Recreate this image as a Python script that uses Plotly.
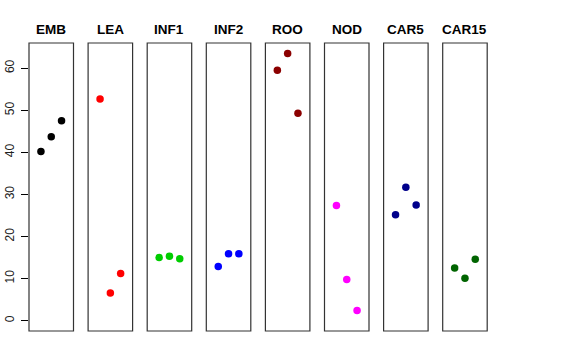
import plotly.graph_objects as go

groups = ["EMB", "LEA", "INF1", "INF2", "ROO", "NOD", "CAR5", "CAR15"]
colors = ["#000000", "#FF0000", "#00CD00", "#0000FF", "#8B0000", "#FF00FF", "#00008B", "#006400"]
x_pos = [1, 2, 3]
values = {
    "EMB": [40.2, 43.7, 47.5],
    "LEA": [52.7, 6.6, 11.2],
    "INF1": [15.0, 15.3, 14.7],
    "INF2": [12.9, 15.9, 15.9],
    "ROO": [59.5, 63.5, 49.3],
    "NOD": [27.4, 9.8, 2.4],
    "CAR5": [25.2, 31.7, 27.5],
    "CAR15": [12.5, 10.1, 14.6],
}
y_ticks = [0, 10, 20, 30, 40, 50, 60]

W, H = 576, 360
left0, pw, step = 29, 44.5, 59.1
top, bottom = 43, 331

fig = go.Figure()
layout = dict(
    width=W, height=H, margin=dict(l=0, r=0, t=0, b=0, autoexpand=False),
    paper_bgcolor="white", plot_bgcolor="white", showlegend=False,
    font=dict(family="Liberation Sans, Arial, sans-serif", color="black"),
)
shapes, annotations = [], []
for i, g in enumerate(groups):
    xn = "x" if i == 0 else f"x{i+1}"
    xa = "xaxis" if i == 0 else f"xaxis{i+1}"
    x0 = (left0 + i * step) / W
    x1 = (left0 + i * step + pw) / W
    layout[xa] = dict(domain=[x0, x1], range=[-0.16, 4.16], visible=False,
                      anchor="y", fixedrange=True, automargin=False)
    fig.add_trace(go.Scatter(x=x_pos, y=values[g], mode="markers", xaxis=xn, yaxis="y",
                             marker=dict(color=colors[i], size=7.5, line=dict(width=0)),
                             hoverinfo="skip"))
    shapes.append(dict(type="rect", xref="paper", yref="paper", x0=x0, x1=x1,
                       y0=1 - bottom / H, y1=1 - top / H,
                       line=dict(color="#333333", width=1.2), fillcolor="rgba(0,0,0,0)"))
    annotations.append(dict(text=f"<b>{g}</b>", xref="paper", yref="paper",
                            x=(x0 + x1) / 2, y=1 - 29.5 / H, xanchor="center", yanchor="middle",
                            showarrow=False, font=dict(size=13.5, color="black")))

layout["yaxis"] = dict(domain=[1 - bottom / H, 1 - top / H], range=[-2.45, 66.0],
                       anchor="x", tickmode="array", tickvals=y_ticks,
                       ticktext=[str(v) for v in y_ticks], ticks="outside", ticklen=7,
                       tickwidth=1, tickcolor="black", tickangle=-90,
                       tickfont=dict(size=12, color="#222222"), showgrid=False,
                       zeroline=False, showline=False, fixedrange=True,
                       ticklabelstandoff=2, automargin=False)
layout["shapes"] = shapes
layout["annotations"] = annotations
fig.update_layout(**layout)
fig.write_html("out.html", config={"displayModeBar": False},
               post_script="document.body.style.margin='0';document.body.style.overflow='hidden';")
